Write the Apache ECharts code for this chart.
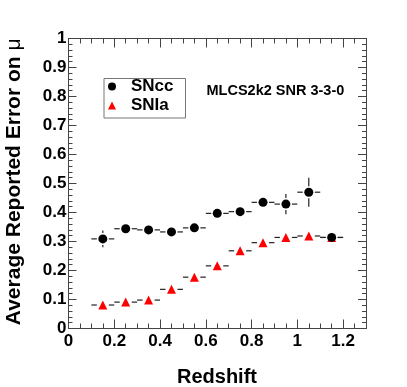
<!DOCTYPE html>
<html>
<head>
<meta charset="utf-8">
<script src="https://cdn.jsdelivr.net/npm/echarts@6/dist/echarts.min.js"></script>
<style>
  html, body { margin: 0; padding: 0; background: #fff; }
  #chart { width: 407px; height: 387px; }
</style>
</head>
<body>
<div id="chart"></div>
<script>
// bin centres in redshift
const redshift = [0.15, 0.25, 0.35, 0.45, 0.55, 0.65, 0.75, 0.85, 0.95, 1.05, 1.15];
const binHalfWidth = 0.05;
// average reported error on mu
const sncc = [0.309, 0.344, 0.340, 0.333, 0.347, 0.397, 0.403, 0.435, 0.429, 0.470, 0.314];
const snccErr = [0.029, 0.012, 0.010, 0.010, 0.010, 0.012, 0.012, 0.012, 0.035, 0.050, 0.010];
const snia = [0.081, 0.091, 0.098, 0.135, 0.177, 0.216, 0.268, 0.296, 0.314, 0.319, 0.314];
const sniaErr = [0.005, 0.005, 0.005, 0.005, 0.005, 0.005, 0.005, 0.005, 0.005, 0.005, 0.005];

const FONT = 'Liberation Sans, Arial, Helvetica, sans-serif';
const frameColor = '#444';

function toPoints(ys, errs) {
  return redshift.map((x, i) => [x, ys[i], errs[i]]);
}

// ROOT style error bars: gap around the marker
function errorBars(params, api) {
  const x = api.value(0), y = api.value(1), e = api.value(2);
  const c = api.coord([x, y]);
  const left = api.coord([x - binHalfWidth, y])[0];
  const right = api.coord([x + binHalfWidth, y])[0];
  const top = api.coord([x, y + e])[1];
  const bottom = api.coord([x, y - e])[1];
  const gap = 6;
  const style = { stroke: '#222', lineWidth: 1.2 };
  const kids = [];
  const seg = (x1, y1, x2, y2) => kids.push({ type: 'line', shape: { x1, y1, x2, y2 }, style });
  if (c[0] - left > gap) seg(left, c[1], c[0] - gap, c[1]);
  if (right - c[0] > gap) seg(c[0] + gap, c[1], right, c[1]);
  if (c[1] - top > gap) seg(c[0], top, c[0], c[1] - gap);
  if (bottom - c[1] > gap) seg(c[0], c[1] + gap, c[0], bottom);
  return { type: 'group', children: kids };
}

const chart = echarts.init(document.getElementById('chart'), null, { renderer: 'canvas' });

const axisCommon = {
  axisLine: { show: true, onZero: false, lineStyle: { color: frameColor, width: 1 } },
  splitLine: { show: false }
};

chart.setOption({
  animation: false,
  grid: { left: 68.5, right: 41, top: 38.5, bottom: 58.5 },
  xAxis: [
    Object.assign({}, axisCommon, {
      type: 'value', min: 0, max: 1.3, interval: 0.2, position: 'bottom',
      axisTick: { inside: true, length: 9, lineStyle: { color: frameColor } },
      minorTick: { show: true, splitNumber: 4, length: 5, lineStyle: { color: frameColor } },
      axisLabel: { margin: 4, showMaxLabel: false, fontFamily: FONT, fontWeight: 'bold', fontSize: 17, color: '#000' }
    }),
    Object.assign({}, axisCommon, {
      type: 'value', min: 0, max: 1.3, interval: 0.2, position: 'top',
      axisTick: { inside: true, length: 9, lineStyle: { color: frameColor } },
      minorTick: { show: true, splitNumber: 4, length: 5, lineStyle: { color: frameColor } },
      axisLabel: { show: false }
    })
  ],
  yAxis: [
    Object.assign({}, axisCommon, {
      type: 'value', min: 0, max: 1, interval: 0.1, position: 'left',
      axisTick: { inside: true, length: 8, lineStyle: { color: frameColor } },
      minorTick: { show: true, splitNumber: 5, length: 4, lineStyle: { color: frameColor } },
      axisLabel: { margin: 2, fontFamily: FONT, fontWeight: 'bold', fontSize: 17, color: '#000' }
    }),
    Object.assign({}, axisCommon, {
      type: 'value', min: 0, max: 1, interval: 0.1, position: 'right',
      axisTick: { inside: true, length: 8, lineStyle: { color: frameColor } },
      minorTick: { show: true, splitNumber: 5, length: 4, lineStyle: { color: frameColor } },
      axisLabel: { show: false }
    })
  ],
  legend: {
    left: 108, top: 78, orient: 'vertical', padding: 0, itemGap: 2,
    itemWidth: 8, itemHeight: 8,
    data: ['SNcc', 'SNIa'],
    textStyle: { fontFamily: FONT, fontWeight: 'bold', fontSize: 17, color: '#000', padding: [0, 0, 0, 10] }
  },
  graphic: [
    { type: 'rect', left: 101.5, top: 76, z: 100,
      shape: { width: 81.5, height: 39.5 },
      style: { fill: 'none', stroke: '#777', lineWidth: 1 } },
    { type: 'text', x: 206.5, y: 90.7,
      style: { text: 'MLCS2k2 SNR 3-3-0', font: 'bold 14.5px ' + FONT, fill: '#000', textVerticalAlign: 'middle' } },
    { type: 'text', x: 217, y: 377,
      style: { text: 'Redshift', font: 'bold 20px ' + FONT, fill: '#000', textAlign: 'center', textVerticalAlign: 'middle' } },
    { type: 'text', x: 14.5, y: 38.5, rotation: Math.PI / 2,
      style: {
        text: 'Average Reported Error on {m|μ}', font: 'bold 21px ' + FONT, fill: '#000',
        textAlign: 'right', textVerticalAlign: 'middle',
        rich: { m: { font: '21px ' + FONT, fill: '#000' } }
      } }
  ],
  series: [
    { name: 'SNIa bars', type: 'custom', renderItem: errorBars, data: toPoints(snia, sniaErr), z: 2, silent: true },
    { name: 'SNcc bars', type: 'custom', renderItem: errorBars, data: toPoints(sncc, snccErr), z: 2, silent: true },
    { name: 'SNIa', type: 'scatter', symbol: 'triangle', symbolSize: 9,
      itemStyle: { color: '#ff0000', opacity: 1 }, data: toPoints(snia, sniaErr), z: 3 },
    { name: 'SNcc', type: 'scatter', symbol: 'circle', symbolSize: 9,
      itemStyle: { color: '#000', opacity: 1 }, data: toPoints(sncc, snccErr), z: 4 }
  ]
});
</script>
</body>
</html>
